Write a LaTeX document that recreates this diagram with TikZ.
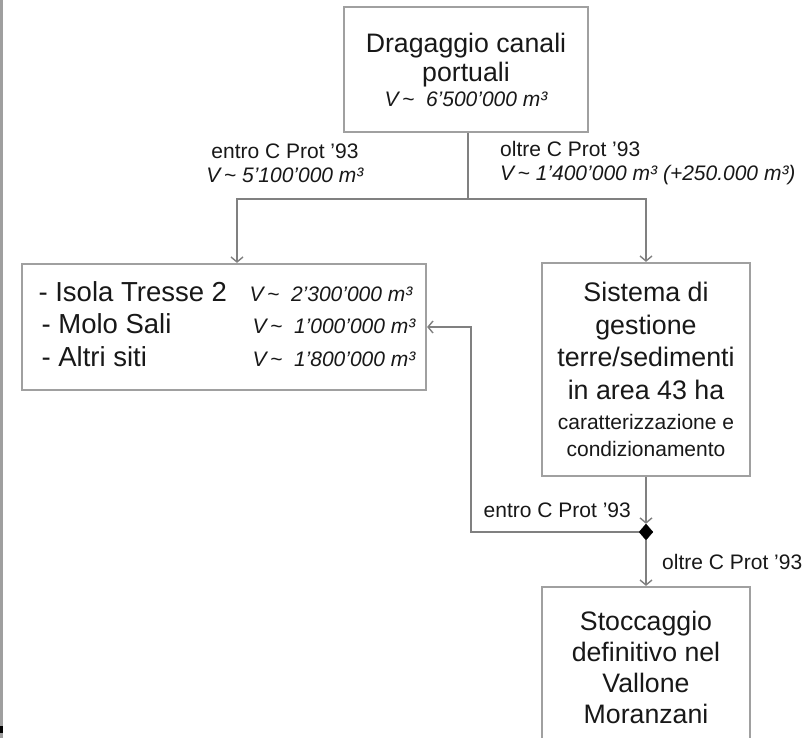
\documentclass[tikz,border=0pt]{standalone}
\usepackage{fontspec}
\setmainfont{Liberation Sans}
\usetikzlibrary{arrows.meta,shapes.geometric}
\definecolor{boxgray}{HTML}{A0A0A0}
\definecolor{linegray}{HTML}{808080}
\definecolor{txt}{HTML}{181818}
\newcommand{\fs}[2]{\fontsize{#1}{#2}\selectfont}
\newcommand{\vapx}{V\,\textasciitilde\ }
\newcommand{\vval}[1]{{\fs{21}{21}\itshape \vapx\ #1 m³}}
\begin{document}
\begin{tikzpicture}[x=1pt,y=-1pt,
  >={Straight Barb[length=5pt,width=12pt]},
  box/.style={draw=boxgray, line width=2.2pt, inner sep=0pt, align=center, text=txt},
  conn/.style={draw=linegray, line width=1.4pt},
  lbl/.style={inner sep=0pt, text=txt, font=\fs{21}{24}}]
\useasboundingbox (0,0) rectangle (808,738);
\clip (0,0) rectangle (808,738);
\fill[white] (0,0) rectangle (808,738);
% left edge bar
\fill[gray!75] (0,0) rectangle (2.5,738);
\fill[black] (0,726) rectangle (3,733);

% boxes
\node[box, minimum width=244pt, minimum height=125pt, font=\fs{26.7}{29}] (top) at (466,69.5)
  {Dragaggio canali\\portuali\\[-4pt]\vval{6'500'000}};
\node[box, minimum width=404pt, minimum height=126pt] (sites) at (224,327)
  {\fs{27.5}{32.5}\begin{tabular}{@{\hspace{6pt}}p{211pt}@{}l@{}}
   - Isola Tresse 2 & \vval{2'300'000}\\
   \hspace{3pt}- Molo Sali & \hspace{3pt}\vval{1'000'000}\\
   \hspace{3pt}- Altri siti & \hspace{3pt}\vval{1'800'000}
   \end{tabular}};
\node[box, minimum width=208pt, minimum height=213pt, font=\fs{26.8}{32.6}] (sys) at (646,369.5)
  {Sistema di\\gestione\\terre/sedimenti\\in area 43 ha\\[-3pt]{\fs{21}{21}caratterizzazione e}\\[-5pt]{\fs{21}{21}condizionamento}};
\node[box, minimum width=208pt, minimum height=161pt, font=\fs{26.7}{31}] (stock) at (646,667.5)
  {Stoccaggio\\definitivo nel\\Vallone\\Moranzani};
\node[diamond, fill=black, draw=black, inner sep=0pt, minimum width=14pt, minimum height=16pt] (dia) at (646,532) {};

% coordinates
\coordinate (split) at (468,199);
\coordinate (lx) at (237,0);
\coordinate (turn) at (471,327);

% connectors
\draw[conn] (top.south -| split) -- (split);
\draw[conn,->] (split) -| (sites.north -| lx);
\draw[conn,->] (split) -| (sys.north);
\draw[conn,->] (sys.south) -- (dia.north);
\draw[conn,->] (dia.west) -| (turn) -- (sites.east |- turn);
\draw[conn,->] (dia.south) -- (stock.north);

% labels
\node[lbl, align=center] (l1) at (285,163) {entro C Prot '93\\{\itshape V\,\textasciitilde\ 5'100'000 m³}};
\node[lbl, align=left, anchor=west] (l2) at (500,163) {oltre C Prot '93\\{\itshape V\,\textasciitilde\ 1'400'000 m³ (+250.000 m³)}};
\node[lbl, anchor=east] (l3) at (631,510) {entro C Prot '93};
\node[lbl, anchor=west] (l4) at (662,562) {oltre C Prot '93};
\end{tikzpicture}
\end{document}
